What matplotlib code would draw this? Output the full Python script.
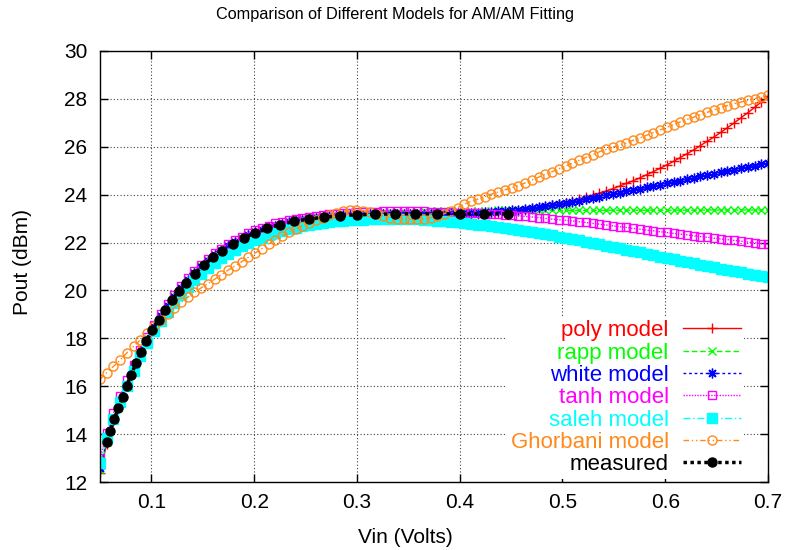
import matplotlib
matplotlib.use('Agg')
import matplotlib.pyplot as plt

plt.rcParams['font.family'] = ['Liberation Sans', 'DejaVu Sans']

# model evaluation points (Volts)
vin = [0.0500, 0.0566, 0.0631, 0.0697, 0.0763, 0.0828, 0.0894, 0.0960, 0.1025, 0.1091,
       0.1157, 0.1222, 0.1288, 0.1354, 0.1419, 0.1485, 0.1551, 0.1616, 0.1682, 0.1747,
       0.1813, 0.1879, 0.1944, 0.2010, 0.2076, 0.2141, 0.2207, 0.2273, 0.2338, 0.2404,
       0.2470, 0.2535, 0.2601, 0.2667, 0.2732, 0.2798, 0.2864, 0.2929, 0.2995, 0.3061,
       0.3126, 0.3192, 0.3258, 0.3323, 0.3389, 0.3455, 0.3520, 0.3586, 0.3652, 0.3717,
       0.3783, 0.3848, 0.3914, 0.3980, 0.4045, 0.4111, 0.4177, 0.4242, 0.4308, 0.4374,
       0.4439, 0.4505, 0.4571, 0.4636, 0.4702, 0.4768, 0.4833, 0.4899, 0.4965, 0.5030,
       0.5096, 0.5162, 0.5227, 0.5293, 0.5359, 0.5424, 0.5490, 0.5556, 0.5621, 0.5687,
       0.5753, 0.5818, 0.5884, 0.5949, 0.6015, 0.6081, 0.6146, 0.6212, 0.6278, 0.6343,
       0.6409, 0.6475, 0.6540, 0.6606, 0.6672, 0.6737, 0.6803, 0.6869, 0.6934, 0.7000]

poly = [12.36, 13.60, 14.53, 15.32, 16.04, 16.74, 17.38, 17.95, 18.46, 18.92,
        19.34, 19.72, 20.08, 20.41, 20.71, 20.98, 21.23, 21.46, 21.66, 21.84,
        22.01, 22.16, 22.30, 22.42, 22.53, 22.62, 22.71, 22.78, 22.85, 22.90,
        22.95, 22.99, 23.03, 23.06, 23.09, 23.11, 23.13, 23.15, 23.16, 23.17,
        23.18, 23.19, 23.19, 23.20, 23.20, 23.20, 23.20, 23.20, 23.20, 23.20,
        23.20, 23.20, 23.20, 23.20, 23.20, 23.20, 23.21, 23.22, 23.23, 23.25,
        23.27, 23.30, 23.33, 23.36, 23.40, 23.45, 23.49, 23.55, 23.61, 23.67,
        23.74, 23.81, 23.89, 23.97, 24.06, 24.15, 24.25, 24.36, 24.47, 24.58,
        24.70, 24.83, 24.96, 25.10, 25.24, 25.39, 25.55, 25.71, 25.87, 26.05,
        26.23, 26.41, 26.60, 26.80, 27.00, 27.21, 27.42, 27.64, 27.87, 28.10]

rapp = [12.50, 13.68, 14.58, 15.36, 16.07, 16.77, 17.40, 17.97, 18.48, 18.94,
        19.36, 19.75, 20.11, 20.44, 20.74, 21.01, 21.26, 21.49, 21.69, 21.87,
        22.04, 22.19, 22.33, 22.45, 22.56, 22.66, 22.75, 22.83, 22.90, 22.96,
        23.01, 23.05, 23.09, 23.12, 23.15, 23.17, 23.19, 23.21, 23.22, 23.23,
        23.24, 23.25, 23.26, 23.27, 23.28, 23.28, 23.29, 23.29, 23.30, 23.30,
        23.31, 23.31, 23.32, 23.32, 23.32, 23.33, 23.33, 23.33, 23.33, 23.34,
        23.34, 23.34, 23.34, 23.34, 23.34, 23.34, 23.34, 23.34, 23.34, 23.34,
        23.34, 23.34, 23.34, 23.34, 23.34, 23.35, 23.35, 23.35, 23.35, 23.35,
        23.35, 23.35, 23.35, 23.35, 23.35, 23.35, 23.35, 23.35, 23.35, 23.35,
        23.36, 23.36, 23.36, 23.36, 23.36, 23.36, 23.36, 23.36, 23.36, 23.36]

white = [12.60, 13.70, 14.57, 15.33, 16.04, 16.74, 17.38, 17.95, 18.46, 18.92,
         19.34, 19.73, 20.09, 20.42, 20.72, 20.99, 21.24, 21.46, 21.66, 21.84,
         22.01, 22.16, 22.30, 22.42, 22.53, 22.62, 22.71, 22.78, 22.85, 22.90,
         22.95, 22.99, 23.03, 23.06, 23.09, 23.11, 23.13, 23.15, 23.16, 23.17,
         23.18, 23.19, 23.19, 23.20, 23.20, 23.20, 23.20, 23.20, 23.20, 23.21,
         23.21, 23.21, 23.22, 23.22, 23.22, 23.23, 23.24, 23.26, 23.28, 23.30,
         23.32, 23.35, 23.38, 23.41, 23.45, 23.49, 23.53, 23.57, 23.61, 23.65,
         23.69, 23.74, 23.80, 23.85, 23.91, 23.97, 24.02, 24.08, 24.14, 24.19,
         24.25, 24.31, 24.36, 24.42, 24.48, 24.53, 24.59, 24.65, 24.70, 24.76,
         24.82, 24.87, 24.93, 24.99, 25.04, 25.10, 25.16, 25.21, 25.27, 25.33]

tanh = [13.00, 14.03, 14.88, 15.58, 16.24, 16.90, 17.52, 18.06, 18.55, 19.00,
        19.42, 19.81, 20.17, 20.50, 20.80, 21.07, 21.32, 21.55, 21.75, 21.93,
        22.10, 22.25, 22.39, 22.51, 22.62, 22.71, 22.80, 22.87, 22.94, 22.99,
        23.04, 23.08, 23.12, 23.15, 23.18, 23.20, 23.22, 23.24, 23.26, 23.27,
        23.28, 23.29, 23.30, 23.30, 23.30, 23.30, 23.30, 23.30, 23.30, 23.29,
        23.28, 23.27, 23.26, 23.25, 23.24, 23.23, 23.22, 23.21, 23.20, 23.18,
        23.16, 23.14, 23.12, 23.09, 23.07, 23.04, 23.01, 22.98, 22.95, 22.93,
        22.90, 22.87, 22.84, 22.80, 22.77, 22.73, 22.70, 22.66, 22.63, 22.59,
        22.56, 22.52, 22.49, 22.45, 22.42, 22.38, 22.35, 22.32, 22.28, 22.25,
        22.22, 22.18, 22.15, 22.12, 22.09, 22.06, 22.02, 21.99, 21.96, 21.93]

saleh = [12.80, 13.82, 14.65, 15.35, 16.00, 16.65, 17.25, 17.80, 18.29, 18.72,
         19.12, 19.49, 19.83, 20.14, 20.43, 20.69, 20.93, 21.15, 21.35, 21.53,
         21.69, 21.84, 21.97, 22.09, 22.20, 22.30, 22.39, 22.47, 22.55, 22.62,
         22.68, 22.74, 22.79, 22.83, 22.86, 22.89, 22.91, 22.93, 22.94, 22.95,
         22.97, 22.98, 22.99, 23.00, 23.00, 22.99, 22.98, 22.97, 22.96, 22.94,
         22.92, 22.90, 22.87, 22.84, 22.81, 22.78, 22.75, 22.72, 22.68, 22.64,
         22.61, 22.57, 22.53, 22.49, 22.44, 22.40, 22.35, 22.30, 22.25, 22.20,
         22.15, 22.09, 22.04, 21.98, 21.93, 21.87, 21.81, 21.76, 21.70, 21.64,
         21.59, 21.53, 21.47, 21.41, 21.36, 21.30, 21.24, 21.18, 21.13, 21.07,
         21.01, 20.96, 20.90, 20.85, 20.80, 20.75, 20.70, 20.65, 20.60, 20.55]

ghorbani = [16.29, 16.57, 16.83, 17.10, 17.40, 17.67, 17.94, 18.22, 18.50, 18.78,
            19.03, 19.27, 19.50, 19.72, 19.92, 20.11, 20.29, 20.47, 20.66, 20.85,
            21.02, 21.20, 21.38, 21.56, 21.75, 21.94, 22.11, 22.27, 22.43, 22.57,
            22.71, 22.83, 22.94, 23.04, 23.14, 23.23, 23.30, 23.34, 23.36, 23.33,
            23.26, 23.18, 23.10, 23.04, 23.00, 22.99, 22.98, 22.98, 23.00, 23.04,
            23.10, 23.20, 23.33, 23.46, 23.60, 23.72, 23.82, 23.92, 24.02, 24.11,
            24.20, 24.29, 24.38, 24.49, 24.61, 24.73, 24.85, 24.96, 25.08, 25.19,
            25.31, 25.43, 25.55, 25.67, 25.79, 25.89, 25.98, 26.07, 26.16, 26.27,
            26.37, 26.48, 26.59, 26.70, 26.81, 26.93, 27.04, 27.14, 27.24, 27.34,
            27.44, 27.54, 27.63, 27.72, 27.80, 27.87, 27.94, 28.01, 28.08, 28.15]

meas_vin = [0.057, 0.060, 0.064, 0.068, 0.072, 0.076, 0.080, 0.085, 0.090, 0.095,
            0.101, 0.107, 0.113, 0.120, 0.127, 0.134, 0.142, 0.151, 0.160, 0.169,
            0.179, 0.190, 0.201, 0.213, 0.225, 0.239, 0.253, 0.268, 0.284, 0.300,
            0.318, 0.337, 0.357, 0.378, 0.400, 0.424, 0.447]
meas_pout = [13.68, 14.15, 14.65, 15.10, 15.55, 16.00, 16.45, 16.95, 17.42, 17.88,
             18.35, 18.78, 19.17, 19.60, 19.98, 20.33, 20.70, 21.06, 21.38, 21.66,
             21.94, 22.19, 22.41, 22.60, 22.75, 22.88, 22.98, 23.06, 23.12, 23.16,
             23.18, 23.20, 23.20, 23.20, 23.20, 23.19, 23.20]

xticks = [0.1, 0.2, 0.3, 0.4, 0.5, 0.6, 0.7]
xticklabels = ['0.1', '0.2', '0.3', '0.4', '0.5', '0.6', '0.7']
yticks = [12, 14, 16, 18, 20, 22, 24, 26, 28, 30]

orange = '#ff8a1c'

fig = plt.figure(figsize=(7.91, 5.5), dpi=100)
ax = fig.add_axes([0.1264, 0.1236, 0.8445, 0.7837])

ax.plot(vin, poly, color='red', lw=1, ls='-', marker='+', ms=7, mew=1, label='poly model')
ax.plot(vin, rapp, color='#00ff00', lw=1, ls=(0, (4, 2)), marker='x', ms=5.5, mew=1, label='rapp model')
ax.plot(vin, white, color='blue', lw=1, ls=(0, (2, 2)), marker=(8, 2, 0), ms=7, mew=1, label='white model')
ax.plot(vin, tanh, color='magenta', lw=1, ls=(0, (1, 1)), marker='s', ms=6, mew=1, mfc='none', label='tanh model')
ax.plot(vin, saleh, color='cyan', lw=1, ls=(0, (5, 2, 1, 2)), marker='s', ms=6.5, mew=1, label='saleh model')
ax.plot(vin, ghorbani, color=orange, lw=1, ls=(0, (4, 2, 1, 2, 1, 2)), marker='o', ms=6.5, mew=1, mfc='none', label='Ghorbani model')
ax.plot(meas_vin, meas_pout, color='black', lw=2.5, ls=(0, (1, 1)), marker='o', ms=6.5, label='measured')

ax.set_xlim(0.05, 0.7)
ax.set_ylim(12, 30)
ax.set_xticks(xticks)
ax.set_xticklabels(xticklabels)
ax.set_yticks(yticks)
ax.tick_params(direction='in', length=6, width=1, labelsize=15, top=True, right=True)
ax.tick_params(axis='x', pad=8)
ax.tick_params(axis='y', pad=9)
ax.grid(True, color='0.25', lw=0.8, ls=(0, (1, 2)))
for s in ax.spines.values():
    s.set_linewidth(1)

# opaque key box like gnuplot's, no border
leg = ax.legend(loc='lower right', bbox_to_anchor=(0.9645, 0.008), frameon=True,
                facecolor='white', edgecolor='none', framealpha=1, fancybox=False,
                markerfirst=False, fontsize=16, handlelength=2.6, handletextpad=0.65,
                labelspacing=0.06, borderpad=0.15, borderaxespad=0)
for t, c in zip(leg.get_texts(), ['red', '#00ff00', 'blue', 'magenta', 'cyan', orange, 'black']):
    t.set_color(c)

fig.text(0.5, 0.973, 'Comparison of Different Models for AM/AM Fitting', ha='center', va='center', fontsize=11.7)
fig.text(0.512, 0.022, 'Vin (Volts)', ha='center', va='center', fontsize=15)
fig.text(0.028, 0.524, 'Pout (dBm)', ha='center', va='center', rotation=90, fontsize=15)

plt.savefig('out.png')
plt.close()
